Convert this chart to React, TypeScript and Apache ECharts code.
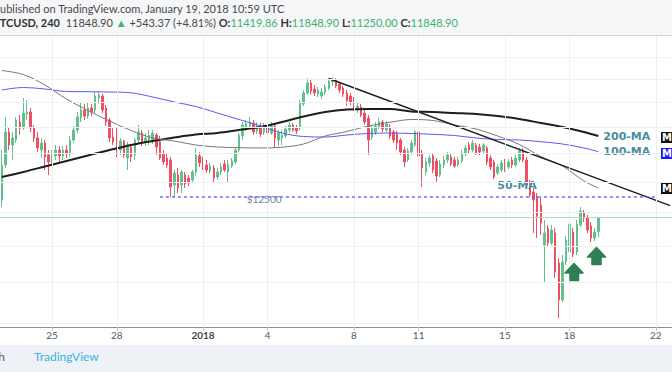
import React, { useEffect, useRef } from "react";
import * as echarts from "echarts";

// ---------- data ----------
const START_UTC = Date.UTC(2017, 11, 22, 16, 0); // first 4h slot
const SLOT_COUNT = 187;
const categories: string[] = Array.from({ length: SLOT_COUNT }, (_, i) => {
  const d = new Date(START_UTC + i * 4 * 3600 * 1000);
  return d.toISOString().slice(0, 16).replace("T", " ");
});
const tickIdx = [14, 32, 56, 74, 98, 116, 140, 158, 182];
const tickLabels = ["25", "28", "2018", "4", "8", "11", "15", "18", "22"];

const opens = [
  12402, 13589, 14811, 14317, 14505, 15202, 14966, 15522, 15604, 14966,
  14581, 14131, 14392, 13948, 13696, 13912, 14131, 13912, 14131, 13985,
  14505, 14888, 15362, 15686, 15443, 15769, 15686, 16186, 16271, 15769,
  15282, 14619, 14695, 14131, 14467, 13840, 14243, 13948, 14505, 14772,
  14430, 14505, 14505, 14695, 14430, 13985, 13840, 13768, 12898, 13239,
  12898, 13239, 13136, 13067, 13343, 13912, 13768, 13589, 13378, 13484,
  13170, 13343, 13625, 13343, 13554, 13696, 14131, 14657, 15005, 15045,
  15163, 14849, 15045, 14811, 15005, 14772, 15045, 14505, 14581, 14657,
  14888, 15084, 14966, 14966, 15935, 16398, 16832, 16571, 16356, 16271,
  16441, 16615, 16876, 16964, 16788, 16615, 16398, 16271, 16101, 15686,
  15810, 15563, 15362, 14619, 14811, 15005, 15202, 14888, 15005, 14811,
  14734, 14505, 14131, 13768, 14058, 14317, 14811, 14021, 13343, 13661,
  13912, 13732, 13239, 13589, 13768, 13876, 13768, 13589, 13732, 13985,
  14317, 14131, 14317, 14243, 14094, 14206, 13840, 13696, 13309, 13413,
  13696, 13519, 13768, 13589, 13768, 14131, 13768, 12966, 12664, 12532,
  12242, 11028, 11529, 11086, 11379, 10522, 9554, 10550, 10829, 11408,
  10829, 11619, 12020, 11833, 11589, 11232, 11419.86,
];
const closes = [
  13589, 14811, 14317, 14581, 15282, 14966, 15563, 15604, 14966, 14581,
  14206, 14392, 13876, 13696, 13948, 14131, 13912, 14131, 13985, 14505,
  14888, 15403, 15686, 15443, 15769, 15604, 16271, 16313, 15686, 15202,
  14581, 14430, 14317, 14467, 13948, 14317, 13876, 14505, 14811, 14430,
  14581, 14695, 14772, 14243, 13840, 13696, 13589, 12831, 13309, 12797,
  13343, 12932, 12966, 13343, 13948, 13661, 13519, 13413, 13554, 13136,
  13343, 13519, 13413, 13589, 13732, 14131, 14695, 15084, 15123, 15202,
  14811, 15045, 14734, 15005, 14772, 15045, 14581, 14772, 14695, 14927,
  15084, 14888, 14849, 15976, 16398, 16832, 16484, 16398, 16527, 16441,
  16658, 16920, 17008, 16701, 16527, 16356, 16059, 16017, 15769, 15852,
  15483, 15202, 14505, 14966, 15045, 15202, 14927, 15123, 14657, 14505,
  14392, 14058, 13696, 14094, 14392, 14811, 13912, 13484, 13696, 13840,
  13413, 13205, 13625, 13768, 13948, 13625, 13554, 13768, 14021, 14206,
  14131, 14392, 14021, 14058, 14317, 13696, 13519, 13170, 13519, 13661,
  13413, 13696, 13589, 13840, 14094, 13768, 12898, 12565, 12402, 11895,
  11680, 11379, 11086, 11468, 10278, 9554, 10550, 11173, 11649, 10772,
  11649, 12052, 11833, 11468, 11232, 11408, 11848.9,
];
const lows = [
  12178, 13484, 14131, 13768, 14392, 14695, 14888, 15282, 14811, 14430,
  14058, 13840, 13413, 13239, 13554, 13768, 13696, 13768, 13840, 13876,
  14392, 14772, 15202, 15282, 15322, 15443, 15563, 15935, 15563, 15045,
  14430, 14317, 13876, 13948, 13840, 13413, 13696, 13768, 14392, 14280,
  14280, 14317, 14355, 13948, 13768, 13589, 13484, 12500, 12500, 12631,
  12631, 12797, 12864, 12999, 13205, 13519, 13413, 13309, 13274, 12966,
  13067, 13239, 13343, 12966, 13484, 13625, 14058, 14505, 14849, 14966,
  14695, 14734, 14619, 14695, 14657, 14695, 14206, 14280, 14317, 14581,
  14772, 14811, 14734, 14888, 15852, 16313, 16356, 16271, 16228, 16143,
  16313, 16527, 16701, 16615, 16398, 16228, 15852, 15893, 15645, 15563,
  15403, 15084, 13948, 14505, 14695, 14927, 14811, 14811, 14543, 14392,
  14131, 13948, 13519, 13696, 13948, 14243, 13309, 12831, 13239, 13519,
  13309, 12966, 13170, 13484, 13661, 13554, 13484, 13519, 13661, 13912,
  14021, 14058, 13948, 13948, 14021, 13589, 13413, 13101, 13239, 13343,
  13343, 13448, 13484, 13519, 13696, 13696, 12797, 12500, 11379, 11232,
  11320, 10014, 10999, 11028, 10119, 9115, 9504, 10467, 10716, 10688,
  10744, 11559, 11710, 11379, 11115, 11144, 11250,
];
const highs = [
  14131, 15403, 14966, 14811, 15403, 15483, 16186, 16101, 15769, 15084,
  14811, 14581, 14505, 14131, 14131, 14317, 14280, 14280, 14317, 14657,
  15045, 15604, 16017, 15935, 15976, 15935, 16441, 16441, 16356, 15893,
  15362, 14966, 15005, 14581, 14505, 14430, 14355, 14581, 15084, 14888,
  14772, 14888, 14888, 14772, 14657, 14131, 13985, 13876, 13413, 13484,
  13413, 13343, 13239, 13413, 14206, 14058, 13876, 13768, 13661, 13589,
  13484, 13661, 13768, 13768, 13840, 14243, 14772, 15202, 15282, 15403,
  15282, 15202, 15163, 15163, 15123, 15202, 15123, 14888, 14888, 15045,
  15202, 15163, 15084, 16101, 16527, 17054, 16964, 16744, 16658, 16615,
  16788, 17054, 17098, 17054, 16876, 16701, 16527, 16398, 16228, 15976,
  15935, 15686, 15483, 15084, 15202, 15362, 15282, 15242, 15123, 14888,
  14849, 14581, 14243, 14206, 14505, 14888, 14888, 14131, 13840, 13948,
  14021, 13840, 13768, 13912, 14058, 13985, 13876, 13876, 14131, 14317,
  14430, 14505, 14392, 14355, 14392, 14280, 13948, 13768, 13625, 13768,
  13804, 13804, 13876, 13948, 14206, 14206, 13876, 13067, 12797, 12631,
  12467, 11771, 11619, 11619, 11529, 10661, 10744, 11290, 11802, 11529,
  11771, 12178, 12083, 11926, 11710, 11529, 11848.9,
];

const maIdx = [0, 6, 12, 18, 24, 30, 36, 42, 48, 54, 60, 66, 72, 78, 84, 90, 96, 102, 108, 114, 120, 126, 132, 138, 144, 150, 156, 162, 166];
const ma200 = [13170, 13343, 13536, 13732, 13930, 14131, 14317, 14467, 14600, 14714, 14772, 14888, 15005, 15202, 15423, 15604, 15706, 15727, 15727, 15625, 15604, 15563, 15522, 15443, 15322, 15163, 15005, 14811, 14657];
const ma100 = [16527, 16636, 16571, 16462, 16454, 16441, 16407, 16228, 16017, 15831, 15563, 15302, 15045, 14772, 14638, 14619, 14695, 14753, 14772, 14753, 14722, 14676, 14581, 14524, 14505, 14441, 14355, 14206, 14070];
const ma50 = [17390, 17208, 16744, 16143, 15665, 15242, 14869, 14581, 14467, 14317, 14243, 14217, 14206, 14235, 14355, 14657, 14830, 15045, 15190, 15302, 15262, 15084, 14927, 14657, 14336, 13894, 13554, 13033, 12797];

const trendIdx = [91, 186];
const trendVal = [17030, 12223];

const gridPrices = [9000, 10000, 11000, 12000, 13000, 14000, 15000, 16000, 17000, 18000];
const lastPrice = 11848.9;
const levelPrice = 12500;
const levelLabel = "$12500";
const levelFrom = 44;
const levelTo = 182;
const levelLabelIdx = 73;

const Y_MIN = 8903;
const Y_MAX = 19029;

const UP = "#62c08f";
const DOWN = "#ee4f62";
const MA_LABEL = "#4b8c9e";
const LEVEL = "#5f5ff2";
const FONT = "Lato, 'Open Sans', sans-serif";

export default function App() {
  const ref = useRef<HTMLDivElement>(null);
  useEffect(() => {
    if (!ref.current) return;
    const chart = echarts.init(ref.current, undefined, { renderer: "svg" });
    const candles = opens.map((o, i) => [o, closes[i], lows[i], highs[i]]);
    const maData = (vals: number[]) => maIdx.map((ix, k) => [categories[ix], vals[k]]);
    const levelStyle = { color: LEVEL, width: 1.5, type: [3, 3], opacity: 0.9 };

    const option: any = {
      animation: false,
      backgroundColor: "#ffffff",
      grid: { left: 0, right: 0, top: 36, height: 291, containLabel: false },
      xAxis: {
        type: "category",
        data: categories,
        boundaryGap: true,
        axisLine: { show: true, lineStyle: { color: "#8e9297", width: 1 } },
        axisTick: {
          show: true,
          alignWithLabel: true,
          interval: (i: number) => tickIdx.indexOf(i) >= 0,
          length: 4,
          lineStyle: { color: "#c5c9ce" },
        },
        axisLabel: {
          interval: (i: number) => tickIdx.indexOf(i) >= 0,
          formatter: (_v: string, i: number) => {
            const k = tickIdx.indexOf(i);
            if (k < 0) return "";
            return tickLabels[k] === "2018" ? "{b|2018}" : tickLabels[k];
          },
          color: "#555a60",
          fontSize: 10,
          fontFamily: FONT,
          margin: 3,
          rich: { b: { fontWeight: "bold", fontSize: 10, color: "#444", fontFamily: FONT } },
        },
        splitLine: { show: false },
      },
      yAxis: { type: "log", logBase: 10, min: Y_MIN, max: Y_MAX, show: false },
      series: [
        {
          name: "grid",
          type: "line",
          data: [],
          z: 1,
          silent: true,
          markLine: {
            silent: true,
            symbol: ["none", "none"],
            label: { show: false },
            lineStyle: { color: "#edf0f5", width: 1, type: "solid" },
            data: [
              ...tickIdx.map((ix) => ({ xAxis: categories[ix] })),
              ...gridPrices.map((p) => ({ yAxis: p })),
            ],
          },
        },
        {
          name: "price line",
          type: "line",
          data: [],
          z: 2,
          silent: true,
          markLine: {
            silent: true,
            symbol: ["none", "none"],
            label: { show: false },
            lineStyle: { color: "#a6dcc0", width: 1, type: "solid" },
            data: [{ yAxis: lastPrice }],
          },
        },
        {
          name: "level",
          type: "line",
          data: [],
          z: 2,
          silent: true,
          markLine: {
            silent: true,
            symbol: ["none", "none"],
            label: { show: false },
            lineStyle: levelStyle,
            data: [
              [
                { coord: [categories[levelFrom], levelPrice], lineStyle: levelStyle },
                { coord: [categories[levelTo], levelPrice], lineStyle: levelStyle },
              ],
            ],
          },
          markPoint: {
            silent: true,
            symbol: "circle",
            symbolSize: 1,
            itemStyle: { color: "rgba(0,0,0,0)" },
            label: { show: true, formatter: levelLabel, color: "#6b7fa6", fontSize: 10, fontFamily: FONT, position: "inside", offset: [0, 2] },
            data: [{ coord: [categories[levelLabelIdx], levelPrice] }],
          },
        },
        {
          name: "BTCUSD",
          type: "candlestick",
          data: candles,
          z: 3,
          barWidth: 2,
          itemStyle: { color: UP, color0: DOWN, borderColor: UP, borderColor0: DOWN, borderWidth: 1 },
        },
        {
          name: "200-MA",
          type: "line",
          data: maData(ma200),
          smooth: 0.35,
          symbol: "none",
          z: 4,
          lineStyle: { color: "#1e1e1e", width: 2 },
          endLabel: { show: true, formatter: "200-MA", color: MA_LABEL, fontSize: 11, fontWeight: "bold", fontFamily: "DejaVu Sans", distance: 5 },
        },
        {
          name: "100-MA",
          type: "line",
          data: maData(ma100),
          smooth: 0.35,
          symbol: "none",
          z: 4,
          lineStyle: { color: "#5a5af2", width: 1 },
          endLabel: { show: true, formatter: "100-MA", color: MA_LABEL, fontSize: 11, fontWeight: "bold", fontFamily: "DejaVu Sans", distance: 5 },
        },
        {
          name: "50-MA",
          type: "line",
          data: maData(ma50),
          smooth: 0.35,
          symbol: "none",
          z: 4,
          lineStyle: { color: "#777777", width: 1 },
          endLabel: { show: true, formatter: "50-MA", color: MA_LABEL, fontSize: 11, fontWeight: "bold", fontFamily: "DejaVu Sans", distance: 5, offset: [-106, -2] },
        },
        {
          name: "trend",
          type: "line",
          data: trendIdx.map((ix, k) => [categories[ix], trendVal[k]]),
          symbol: "none",
          z: 4,
          lineStyle: { color: "#1e1e1e", width: 1.5 },
        },
      ],
      graphic: [
        { type: "rect", shape: { x: 0, y: 0, width: 672, height: 35 }, style: { fill: "#f4f6f8" }, z: 10 },
        { type: "line", shape: { x1: 0, y1: 35.5, x2: 672, y2: 35.5 }, style: { stroke: "#d4d8dc", lineWidth: 1 }, z: 10 },
        {
          type: "text", x: -6.5, y: 8, z: 11,
          style: { text: "Published on TradingView.com, January 19, 2018 10:59 UTC", fill: "#4a4a4a", fontSize: 11, fontFamily: FONT, verticalAlign: "middle" },
        },
        {
          type: "text", x: -7.5, y: 22, z: 11,
          style: {
            text: "{b|BTCUSD, 240}  {n|11848.90} {g|▲} {n|+543.37 (+4.81%)} {b|O:}{g|11419.86} {b|H:}{g|11848.90} {b|L:}{g|11250.00} {b|C:}{g|11848.90}",
            fill: "#333",
            fontSize: 11,
            fontFamily: FONT,
            verticalAlign: "middle",
            rich: {
              b: { fill: "#333", fontWeight: "bold", fontSize: 11, fontFamily: FONT },
              n: { fill: "#4a4a4a", fontSize: 11, fontFamily: FONT },
              g: { fill: "#3fb16e", fontSize: 11, fontFamily: FONT },
            },
          },
        },
        // price-scale label boxes (cut off at right edge)
        { type: "rect", shape: { x: 661, y: 132, width: 12, height: 11 }, style: { fill: "#111" }, z: 12 },
        { type: "text", x: 662, y: 137.5, z: 13, style: { text: "M", fill: "#fff", fontSize: 10, fontWeight: "bold", fontFamily: "DejaVu Sans", verticalAlign: "middle" } },
        { type: "rect", shape: { x: 661, y: 148, width: 12, height: 11 }, style: { fill: "#1a1aff" }, z: 12 },
        { type: "text", x: 662, y: 153.5, z: 13, style: { text: "M", fill: "#fff", fontSize: 10, fontWeight: "bold", fontFamily: "DejaVu Sans", verticalAlign: "middle" } },
        { type: "rect", shape: { x: 661, y: 183, width: 12, height: 11 }, style: { fill: "#111" }, z: 12 },
        { type: "text", x: 662, y: 188.5, z: 13, style: { text: "M", fill: "#fff", fontSize: 10, fontWeight: "bold", fontFamily: "DejaVu Sans", verticalAlign: "middle" } },
        // green arrows
        {
          type: "polygon", z: 12,
          shape: { points: [[574, 263.5], [583, 273], [578.5, 273], [578.5, 280.5], [570, 280.5], [570, 273], [565, 273]] },
          style: { fill: "#2f7e54", stroke: "#2f7e54", lineWidth: 1.5, lineJoin: "round" },
        },
        {
          type: "polygon", z: 12,
          shape: { points: [[596.5, 247.5], [605.5, 257], [601, 257], [601, 264.5], [592, 264.5], [592, 257], [587.5, 257]] },
          style: { fill: "#2f7e54", stroke: "#2f7e54", lineWidth: 1.5, lineJoin: "round" },
        },
        // footer
        { type: "rect", shape: { x: 0, y: 345, width: 672, height: 27 }, style: { fill: "#eef1f5" }, z: 10 },
        { type: "text", x: 5, y: 356, z: 11, style: { text: "with", align: "right", fill: "#555", fontSize: 12, fontFamily: FONT, verticalAlign: "middle" } },
        {
          type: "group", z: 11,
          children: [
            { type: "circle", shape: { cx: 16, cy: 356, r: 4 }, style: { fill: "#45b5e6" } },
            { type: "circle", shape: { cx: 22.5, cy: 354.5, r: 5 }, style: { fill: "#45b5e6" } },
            { type: "rect", shape: { x: 10, y: 355.5, width: 19, height: 6, r: 3 }, style: { fill: "#45b5e6" } },
            { type: "polyline", shape: { points: [[11, 361], [16, 356.5], [20, 360], [24.5, 355.5], [29, 360]] }, style: { stroke: "#ffffff", lineWidth: 1.6, fill: null } },
          ],
        },
        { type: "text", x: 34, y: 356, z: 11, style: { text: "TradingView", fill: "#3bb3e4", fontSize: 12, fontFamily: FONT, verticalAlign: "middle" } },
      ],
    };
    chart.setOption(option);
    return () => chart.dispose();
  }, []);
  return (
    <div style={{ position: "fixed", left: 0, top: 0, width: 672, height: 372, background: "#fff" }}>
      <div ref={ref} style={{ width: 672, height: 372 }} />
    </div>
  );
}
